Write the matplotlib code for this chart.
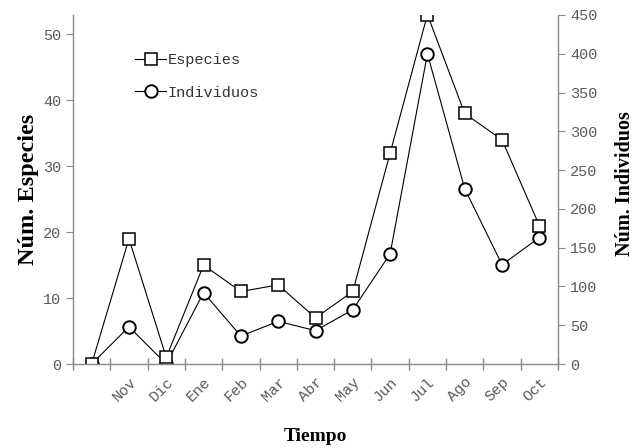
import numpy as np
import matplotlib
matplotlib.use('Agg')
import matplotlib.pyplot as plt

meses = ['', 'Nov', 'Dic', 'Ene', 'Feb', 'Mar', 'Abr', 'May', 'Jun', 'Jul', 'Ago', 'Sep', 'Oct']
especies = [0, 19, 1, 15, 11, 12, 7, 11, 32, 53, 38, 34, 21]
individuos = [0, 48, 0, 92, 36, 55, 43, 70, 142, 400, 226, 128, 163]

gris = '#8a8a8a'
texto = '#5a5a5a'
mono = 'Liberation Mono'
serif = 'Liberation Serif'

fig = plt.figure(figsize=(6.38, 4.48), dpi=100)
ax = fig.add_axes([73/638, 1 - 364/448, (558-73)/638, (364-15)/448])
ax2 = ax.twinx()

x = np.arange(len(meses))

l1, = ax.plot(x, especies, color='black', lw=0.8, marker='s', ms=8,
              mfc='white', mec='black', mew=1.1, label='Especies')
l2, = ax2.plot(x, individuos, color='black', lw=0.8, marker='o', ms=9,
               mfc='white', mec='black', mew=1.4, label='Individuos')
ax.set_zorder(ax2.get_zorder() + 1)
ax.patch.set_visible(False)

ax.set_xlim(-0.5, len(meses) - 0.5)
ax.set_ylim(0, 450 / 8.5)
ax2.set_ylim(0, 450)
ax.set_yticks(np.arange(0, 51, 10))
ax2.set_yticks(np.arange(0, 451, 50))

# ticks at the category boundaries, labels at the centres
ax.set_xticks(np.arange(-0.5, len(meses) + 0.5, 1))
ax.set_xticklabels([])
ax.set_xticks(x, minor=True)
ax.set_xticklabels(meses, minor=True, rotation=45, ha='right', va='top',
                   rotation_mode='anchor', family=mono, fontsize=11, color=texto)
ax.tick_params(axis='x', which='major', direction='inout', length=9, color=gris, width=1)
ax.tick_params(axis='x', which='minor', length=0, pad=8)

for a in (ax, ax2):
    for s in a.spines.values():
        s.set_color(gris)
        s.set_linewidth(1)
    a.spines['top'].set_visible(False)
    a.tick_params(axis='y', color=gris, length=5, labelcolor=texto, labelsize=11)
    for t in a.get_yticklabels():
        t.set_family(mono)
ax.spines['right'].set_visible(False)
ax2.spines['left'].set_visible(False)
ax2.spines['bottom'].set_visible(False)

ax.set_ylabel('Núm. Especies', family=serif, fontweight='bold', fontsize=17.5, labelpad=3)
ax2.set_ylabel('Núm. Individuos', family=serif, fontweight='bold', fontsize=14.5,
               rotation=90, va='center')
ax2.yaxis.set_label_coords(1.138, 0.517)
ax.set_xlabel('Tiempo', family=serif, fontweight='bold', fontsize=14, labelpad=17)

leg = ax.legend(handles=[l1, l2], loc='upper left', bbox_to_anchor=(0.1, 0.93),
                frameon=False, handlelength=2.0, handletextpad=0.1, labelspacing=1.2,
                prop={'family': mono, 'size': 11})
for t in leg.get_texts():
    t.set_color('#333333')

fig.savefig('out.png', dpi=100)
